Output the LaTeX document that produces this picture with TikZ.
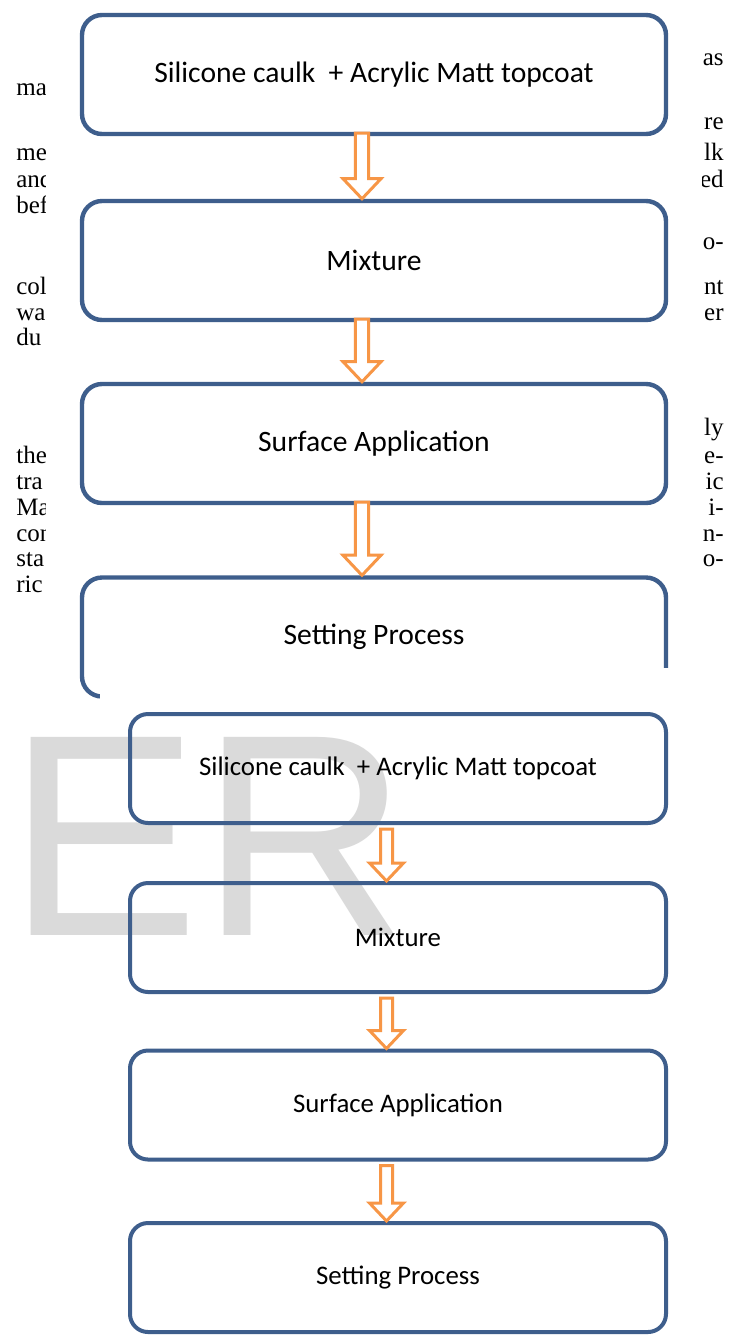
\documentclass[tikz,border=0pt]{standalone}
\usepackage{fontspec}
\setmainfont{Liberation Serif}
\newfontfamily\chartfont{Carlito}
\newfontfamily\markfont{Liberation Sans}
\usetikzlibrary{calc}
\definecolor{boxblue}{HTML}{3E5E8C}
\definecolor{arroworange}{HTML}{F79646}
\definecolor{markgray}{HTML}{DADADA}
\tikzset{
  frag/.style={inner sep=0pt, font=\fontsize{12.5}{15}\selectfont},
  stepbox/.style={draw=boxblue, line width=2.2pt, rounded corners=10pt,
    minimum width=292pt, minimum height=59.5pt, font=\chartfont\fontsize{14.8}{17}\selectfont},
  smallbox/.style={stepbox, line width=2pt, minimum width=268pt, minimum height=54.5pt,
    rounded corners=9pt, font=\chartfont\fontsize{13.4}{16}\selectfont},
  hollow/.style={draw=arroworange, fill=white, line width=1.5pt,
    to path={let \p1=(\tikztostart), \p2=(\tikztotarget) in
      (\x1-3pt*#1,\y1) -- (\x1-3pt*#1,\y2+9pt*#1) -- (\x1-8.5pt*#1,\y2+9pt*#1)
      -- (\x1,\y2) -- (\x1+8.5pt*#1,\y2+9pt*#1) -- (\x1+3pt*#1,\y2+9pt*#1)
      -- (\x1+3pt*#1,\y1) -- cycle}},
  hollow/.default=1,
  wmark/.style={inner sep=0pt, outer sep=0pt, anchor=base west, text=markgray,
    font=\markfont\fontsize{144}{144}\selectfont}
}
\begin{document}
\begin{tikzpicture}[x=0.5pt,y=-0.5pt]
\useasboundingbox (0,0) rectangle (729,1335);

% page text behind the figure
\foreach \y/\w [count=\i] in {95/ma,160/me,187/and,213/bef,294/col,320/wa,345/du,
  463/the,489/tra,515/Ma,541/con,566/sta,592/ric}
  \node[frag,anchor=base west] (left\i) at (16,\y) {\w};
\foreach \y/\w [count=\i] in {65/as,129/re,160/lk,187/ed,249/o-,294/nt,320/er,
  435/ly,463/e-,489/ic,515/i-,541/n-,566/o-}
  \node[frag,anchor=base east] (right\i) at (724,\y) {\w};
\fill[white] (46,0) rectangle (702,668);

% first copy
\foreach \y/\t [count=\i] in {74.5/{Silicone caulk\ \ + Acrylic Matt topcoat},
  260.5/Mixture,443.5/Surface Application,637/Setting Process}
  \node[stepbox] (up\i) at (374,\y) {\t};
\foreach \a/\b in {1/2,2/3,3/4}
  \draw[hollow=1.12] ([xshift=-6pt,yshift=1.5pt]up\a.south) to ([xshift=-6pt]up\b.north);

% second copy over it
\fill[white] (100,668) rectangle (729,1335);
\node[wmark] (er) at (8,935) {ER};
\foreach \y/\t [count=\i] in {768.5/{Silicone caulk\ \ + Acrylic Matt topcoat},
  937.5/Mixture,1105/Surface Application,1277.5/Setting Process}
  \node[smallbox] (low\i) at (398,\y) {\t};
\foreach \a/\b in {1/2,2/3,3/4}
  \draw[hollow] ([xshift=-5.75pt,yshift=-2pt]low\a.south) to ([xshift=-5.75pt]low\b.north);
\end{tikzpicture}
\end{document}
